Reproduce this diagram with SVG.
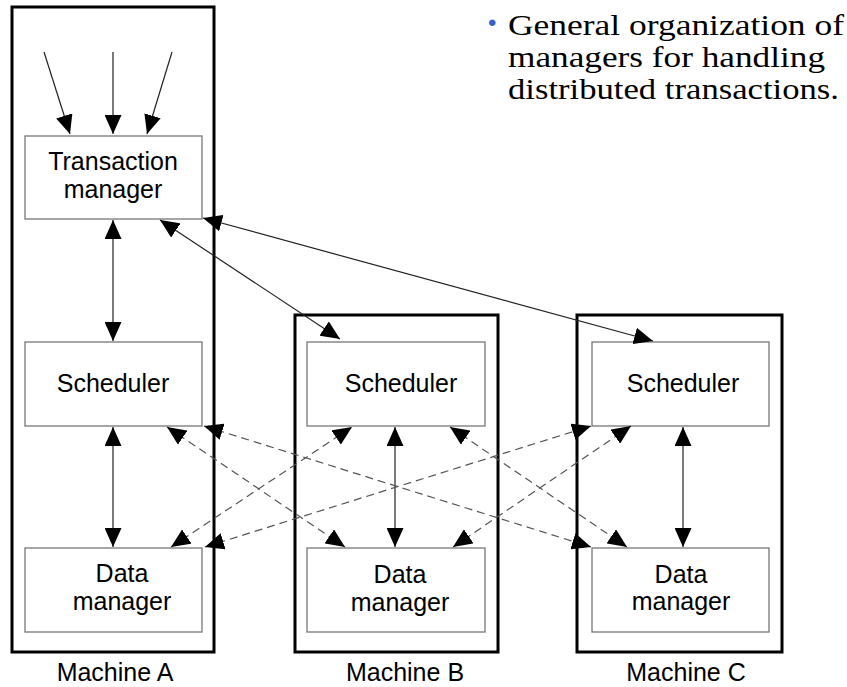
<svg xmlns="http://www.w3.org/2000/svg" width="847" height="687" viewBox="0 0 847 687">
<style>
.machine{fill:none;stroke:#000;stroke-width:3}
.box{fill:#fff;stroke:#777;stroke-width:1.3}
.lbl{font-family:"Liberation Sans",Arial,sans-serif;font-size:25px;fill:#000;text-anchor:middle}
.solid{fill:none;stroke:#222;stroke-width:1.2}
.dash{fill:none;stroke:#555;stroke-width:1.2;stroke-dasharray:8 5}
.cap{font-family:"Liberation Serif","Times New Roman",serif;font-size:28.8px;fill:#000}
</style>
<defs>
<marker id="ah" viewBox="0 0 19 17" refX="19" refY="8.5" markerWidth="19" markerHeight="17" markerUnits="userSpaceOnUse" orient="auto-start-reverse">
<path d="M0,0 L19,8.5 L0,17 z" fill="#000"/>
</marker>
</defs>
<rect width="847" height="687" fill="#fff"/>
<g id="machineA"><rect class="machine" x="12" y="7" width="202" height="645"/><text class="lbl" x="115" y="681">Machine A</text></g>
<g id="machineB"><rect class="machine" x="295" y="315" width="203" height="337"/><text class="lbl" x="405" y="681">Machine B</text></g>
<g id="machineC"><rect class="machine" x="577" y="315" width="205" height="337"/><text class="lbl" x="686" y="681">Machine C</text></g>
<g id="tm"><rect class="box" x="25" y="136" width="177" height="83"/><text class="lbl" x="113" y="170">Transaction</text><text class="lbl" x="113" y="198">manager</text></g>
<g id="schedA"><rect class="box" x="25" y="342" width="177" height="84"/><text class="lbl" x="113" y="392">Scheduler</text></g>
<g id="dataA"><rect class="box" x="25" y="548" width="177" height="84"/><text class="lbl" x="122" y="582">Data</text><text class="lbl" x="122" y="610">manager</text></g>
<g id="schedB"><rect class="box" x="307" y="342" width="178" height="84"/><text class="lbl" x="401" y="392">Scheduler</text></g>
<g id="dataB"><rect class="box" x="307" y="548" width="178" height="84"/><text class="lbl" x="400" y="583">Data</text><text class="lbl" x="400" y="611">manager</text></g>
<g id="schedC"><rect class="box" x="592" y="342" width="177" height="84"/><text class="lbl" x="683" y="392">Scheduler</text></g>
<g id="dataC"><rect class="box" x="592" y="548" width="177" height="84"/><text class="lbl" x="681" y="583">Data</text><text class="lbl" x="681" y="610">manager</text></g>
<g id="connectors">
<line class="solid" x1="44" y1="52" x2="70" y2="134" marker-end="url(#ah)"/>
<line class="solid" x1="113" y1="52" x2="113" y2="134" marker-end="url(#ah)"/>
<line class="solid" x1="172" y1="52" x2="147" y2="134" marker-end="url(#ah)"/>
<line class="solid" x1="113" y1="220" x2="113" y2="341" marker-start="url(#ah)" marker-end="url(#ah)"/>
<line class="solid" x1="113" y1="427" x2="113" y2="547" marker-start="url(#ah)" marker-end="url(#ah)"/>
<line class="solid" x1="395" y1="427" x2="395" y2="547" marker-start="url(#ah)" marker-end="url(#ah)"/>
<line class="solid" x1="683" y1="427" x2="683" y2="547" marker-start="url(#ah)" marker-end="url(#ah)"/>
<line class="solid" x1="160" y1="220" x2="340" y2="339" marker-start="url(#ah)" marker-end="url(#ah)"/>
<line class="solid" x1="203" y1="218" x2="653" y2="341" marker-start="url(#ah)" marker-end="url(#ah)"/>
<line class="dash" x1="167" y1="427" x2="345" y2="547" marker-start="url(#ah)" marker-end="url(#ah)"/>
<line class="dash" x1="204" y1="426" x2="591" y2="547" marker-start="url(#ah)" marker-end="url(#ah)"/>
<line class="dash" x1="205" y1="547" x2="591" y2="426" marker-start="url(#ah)" marker-end="url(#ah)"/>
<line class="dash" x1="171" y1="547" x2="352" y2="427" marker-start="url(#ah)" marker-end="url(#ah)"/>
<line class="dash" x1="453" y1="547" x2="631" y2="426" marker-start="url(#ah)" marker-end="url(#ah)"/>
<line class="dash" x1="450" y1="427" x2="627" y2="547" marker-start="url(#ah)" marker-end="url(#ah)"/>
</g>
<g id="caption">
<text x="488" y="31" style="font-family:'Liberation Sans',Arial,sans-serif;font-size:24px;fill:#3c5fd0">•</text>
<text class="cap" x="508" y="35" textLength="336" lengthAdjust="spacingAndGlyphs">General organization of</text>
<text class="cap" x="508" y="67" textLength="317" lengthAdjust="spacingAndGlyphs">managers for handling</text>
<text class="cap" x="508" y="99" textLength="331" lengthAdjust="spacingAndGlyphs">distributed transactions.</text>
</g>
</svg>
